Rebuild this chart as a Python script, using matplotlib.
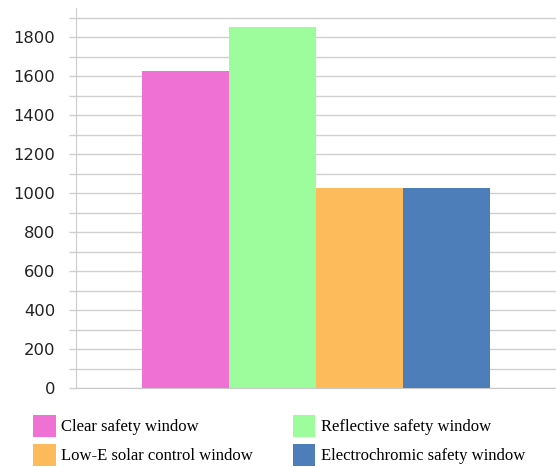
import matplotlib
matplotlib.use('Agg')
import matplotlib.pyplot as plt
from matplotlib.ticker import MultipleLocator

categories = ['Clear safety window', 'Reflective safety window',
              'Low-E solar control window', 'Electrochromic safety window']
values = [1625, 1850, 1025, 1025]
colors = ['#f071d4', '#9dfd9d', '#fdbb5b', '#4d7eba']

fig = plt.figure(figsize=(5.56, 4.67), dpi=100)
ax = fig.add_axes([76 / 556, 1 - 388 / 467, 1 - 76 / 556, (388 - 8) / 467])

offsets = [-1.5, -0.5, 0.5, 1.5]
bars = []
for off, val, col, name in zip(offsets, values, colors, categories):
    bars.append(ax.bar(off, val, width=1.0, color=col, label=name, zorder=3))

# bars fill about 0.727 of the axes width, centred
half = 2.0 / 0.727
ax.set_xlim(-half, half)
ax.set_ylim(0, 1950)

ax.yaxis.set_major_locator(MultipleLocator(200))
ax.yaxis.set_minor_locator(MultipleLocator(100))
ax.grid(axis='y', which='both', color='#d0d0d0', linewidth=1.0, zorder=0)
ax.tick_params(axis='y', which='both', length=5, color='#d0d0d0', width=1.0,
               labelsize=11.8, pad=10, labelcolor='#222222')
ax.tick_params(axis='x', bottom=False, labelbottom=False)

for s in ['top', 'right']:
    ax.spines[s].set_visible(False)
ax.spines['left'].set_color('#cccccc')
ax.spines['bottom'].set_color('#c8c8c8')

# legend fills row by row in the reference: reorder for column-major fill
order = [0, 2, 1, 3]
fig.legend([bars[i] for i in order], [categories[i] for i in order],
           loc='upper left', bbox_to_anchor=(33 / 556, 1 - 415 / 467),
           bbox_transform=fig.transFigure, ncol=2, frameon=False,
           prop={'family': 'Liberation Serif', 'size': 12},
           handlelength=1.35, handleheight=1.65, handletextpad=0.34,
           columnspacing=2.4, labelspacing=0.4, borderpad=0,
           borderaxespad=0)

fig.savefig('out.png', dpi=100)
